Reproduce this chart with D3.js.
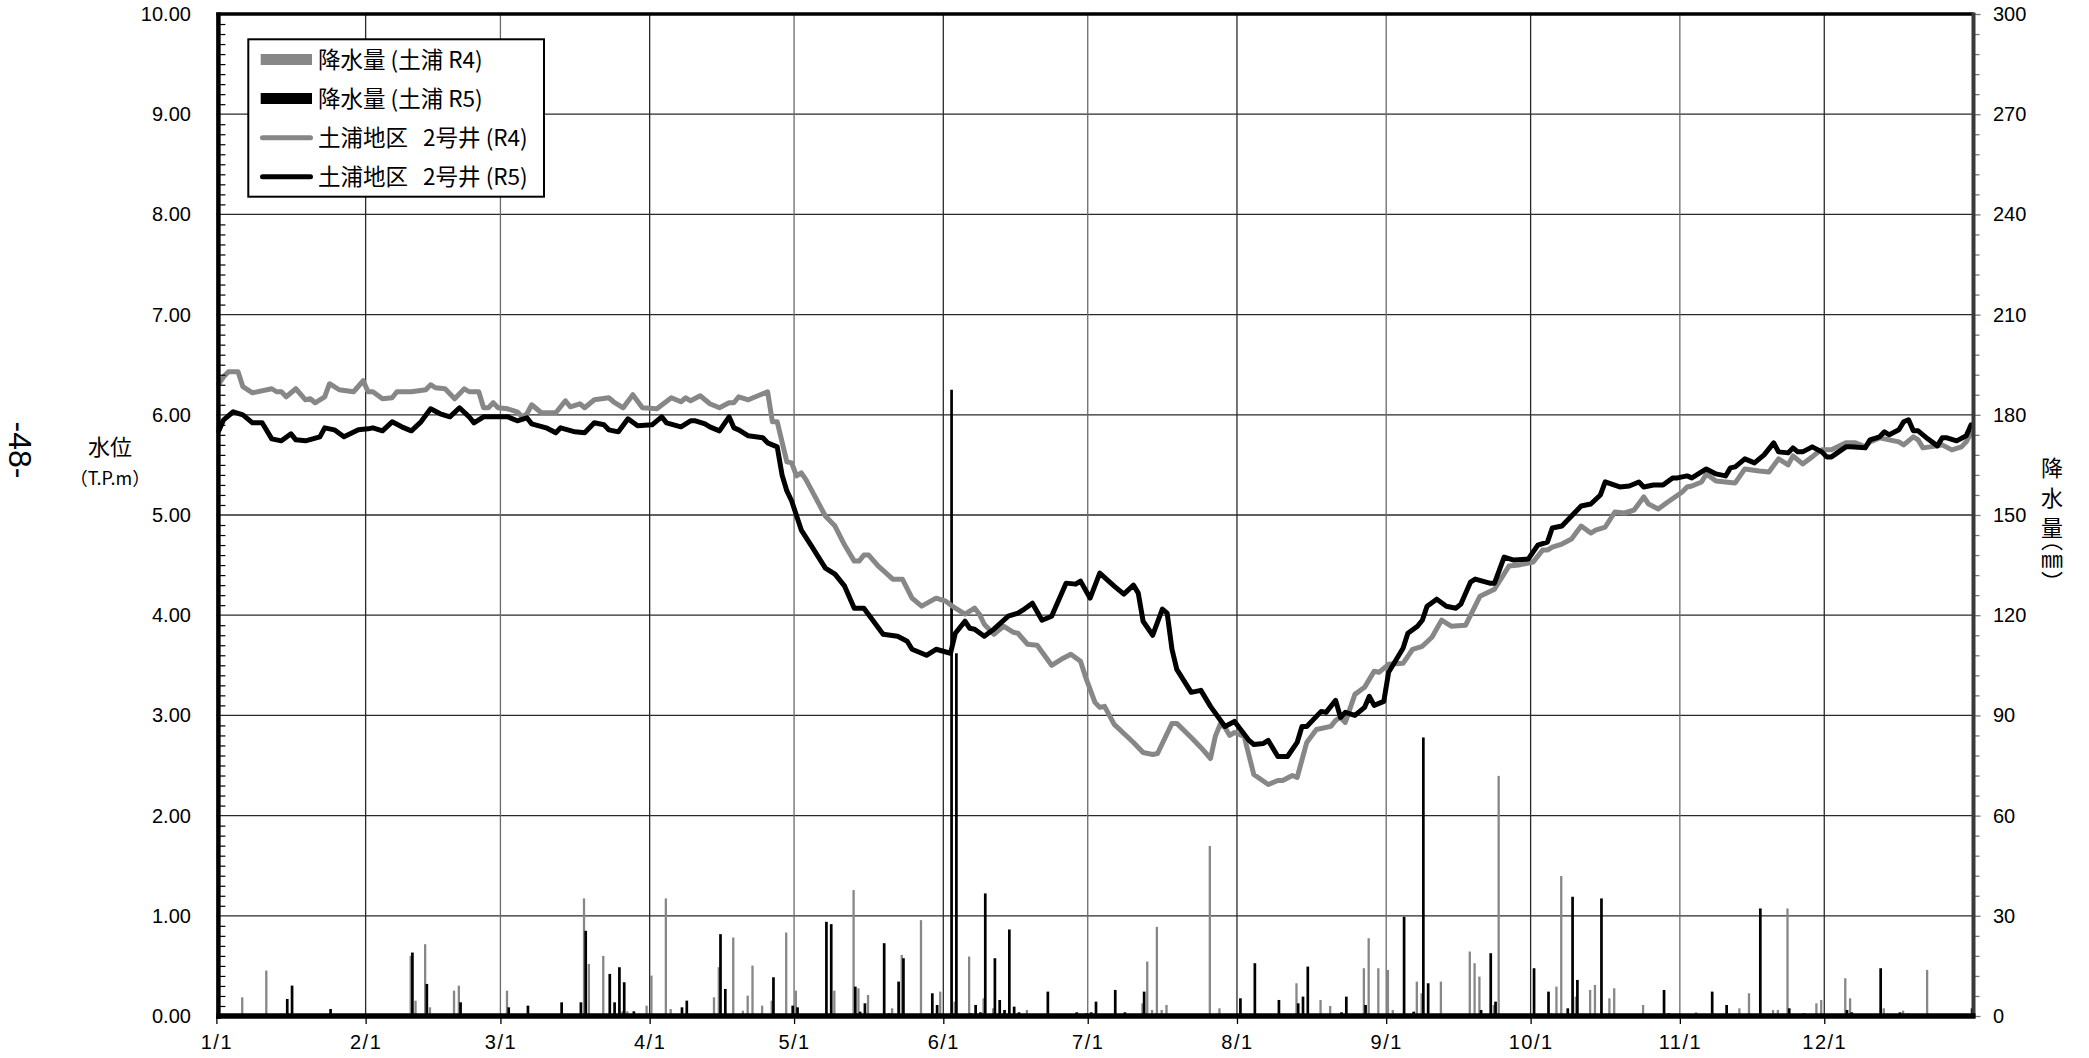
<!DOCTYPE html>
<html><head><meta charset="utf-8">
<script src="https://cdn.jsdelivr.net/npm/d3@7"></script>
<style>
html,body{margin:0;padding:0;background:#fff;}
svg{display:block;}
.num{font-family:"Liberation Sans",Arial,sans-serif;font-size:20px;fill:#000;}
.jp{font-family:"Noto Sans CJK JP","Noto Sans CJK SC",sans-serif;fill:#000;}
</style></head><body>
<svg id="chart" width="2089" height="1058"></svg>
<script>
// ---------- data ----------
const monthLabels = ["1/1","2/1","3/1","4/1","5/1","6/1","7/1","8/1","9/1","10/1","11/1","12/1"];
const leftTicks = [0,1,2,3,4,5,6,7,8,9,10];
const rightTicks = [0,30,60,90,120,150,180,210,240,270,300];
const legendNames = ["降水量 (土浦 R4)","降水量 (土浦 R5)","土浦地区   2号井 (R4)","土浦地区   2号井 (R5)"];

// groundwater level (T.P.m), [day of year (0 = 1/1), value]
const levelR4 = [[0,6.31],[1,6.38],[2,6.43],[4,6.43],[5,6.28],[7,6.22],[11,6.26],[12,6.23],[13,6.23],[14,6.18],[16,6.26],[18,6.15],[19,6.16],[20,6.12],[22,6.18],[23,6.31],[25,6.25],[28,6.23],[30,6.34],[31,6.23],[32,6.23],[34,6.16],[36,6.17],[37,6.23],[40,6.23],[43,6.25],[44,6.30],[45,6.27],[47,6.26],[49,6.16],[51,6.26],[52,6.23],[54,6.23],[55,6.07],[56,6.07],[57,6.12],[58,6.07],[60,6.06],[62,6.03],[63,5.98],[64,6.01],[65,6.10],[67,6.02],[70,6.02],[72,6.14],[73,6.08],[75,6.11],[76,6.07],[78,6.15],[81,6.17],[82,6.13],[84,6.07],[86,6.20],[88,6.07],[91,6.06],[94,6.17],[96,6.13],[97,6.17],[98,6.14],[100,6.19],[102,6.11],[104,6.07],[106,6.12],[107,6.12],[108,6.18],[110,6.15],[112,6.19],[114,6.23],[115,5.93],[116,5.93],[118,5.53],[119,5.52],[120,5.39],[121,5.42],[122,5.35],[126,4.99],[128,4.89],[130,4.70],[132,4.54],[133,4.54],[134,4.60],[135,4.60],[137,4.49],[140,4.36],[142,4.36],[144,4.17],[146,4.09],[149,4.17],[151,4.14],[153,4.07],[155,4.01],[157,4.07],[158,4.01],[159,3.91],[161,3.81],[163,3.89],[165,3.83],[166,3.82],[168,3.71],[170,3.70],[173,3.50],[175,3.56],[177,3.61],[179,3.54],[180,3.39],[182,3.13],[183,3.08],[184,3.09],[186,2.91],[190,2.73],[192,2.63],[194,2.61],[195,2.62],[198,2.92],[199,2.92],[202,2.78],[204,2.68],[206,2.57],[207,2.79],[208,2.91],[209,2.88],[210,2.80],[211,2.83],[213,2.79],[215,2.41],[218,2.31],[220,2.35],[221,2.35],[223,2.40],[224,2.38],[226,2.73],[228,2.86],[231,2.89],[232,2.95],[233,2.98],[234,2.93],[236,3.21],[238,3.28],[240,3.44],[241,3.43],[243,3.51],[246,3.52],[248,3.66],[250,3.69],[252,3.78],[254,3.95],[256,3.89],[259,3.90],[262,4.19],[265,4.26],[268,4.49],[270,4.50],[273,4.53],[275,4.65],[276,4.65],[277,4.68],[279,4.71],[281,4.76],[283,4.89],[285,4.82],[286,4.85],[288,4.88],[290,5.03],[292,5.02],[294,5.05],[296,5.18],[297,5.11],[299,5.06],[301,5.13],[304,5.23],[305,5.28],[306,5.29],[308,5.33],[309,5.41],[311,5.34],[313,5.33],[315,5.32],[317,5.46],[320,5.44],[322,5.43],[324,5.56],[326,5.50],[327,5.59],[329,5.51],[331,5.58],[332,5.62],[333,5.65],[335,5.65],[338,5.72],[340,5.72],[342,5.68],[343,5.73],[345,5.77],[347,5.75],[349,5.73],[350,5.70],[352,5.78],[353,5.75],[354,5.67],[357,5.69],[358,5.70],[360,5.65],[362,5.68],[363,5.73],[364,5.82]];

const levelR5 = [[0,5.84],[1,5.95],[3,6.03],[5,6.00],[7,5.92],[9,5.92],[11,5.76],[13,5.74],[15,5.81],[16,5.75],[18,5.74],[21,5.78],[22,5.87],[24,5.85],[26,5.78],[29,5.85],[31,5.86],[32,5.87],[34,5.84],[36,5.93],[38,5.88],[40,5.84],[42,5.93],[44,6.06],[46,6.01],[48,5.98],[50,6.07],[52,5.98],[53,5.92],[55,5.98],[56,5.98],[60,5.98],[62,5.94],[64,5.97],[65,5.91],[68,5.87],[70,5.82],[71,5.87],[74,5.83],[76,5.82],[78,5.92],[80,5.90],[81,5.85],[83,5.83],[85,5.96],[87,5.89],[90,5.90],[91,5.94],[92,5.98],[93,5.92],[96,5.88],[98,5.94],[99,5.94],[101,5.91],[102,5.88],[104,5.84],[106,5.98],[107,5.87],[108,5.85],[110,5.79],[113,5.77],[114,5.72],[116,5.68],[117,5.40],[118,5.24],[119,5.14],[121,4.85],[123,4.70],[126,4.47],[128,4.41],[130,4.29],[132,4.07],[134,4.07],[136,3.94],[138,3.81],[141,3.79],[143,3.74],[144,3.66],[147,3.60],[149,3.66],[152,3.62],[153,3.82],[155,3.94],[156,3.87],[157,3.86],[159,3.79],[161,3.86],[164,3.99],[166,4.02],[167,4.05],[169,4.12],[171,3.95],[173,3.99],[176,4.32],[178,4.31],[179,4.34],[181,4.17],[183,4.42],[186,4.29],[188,4.21],[190,4.30],[191,4.22],[192,3.94],[194,3.80],[196,4.06],[197,4.02],[198,3.66],[199,3.46],[202,3.23],[204,3.25],[206,3.09],[209,2.89],[211,2.94],[214,2.75],[215,2.71],[217,2.72],[218,2.75],[220,2.59],[222,2.59],[224,2.73],[225,2.89],[226,2.89],[229,3.04],[230,3.03],[232,3.15],[233,2.98],[234,3.03],[236,3.00],[238,3.08],[239,3.19],[240,3.10],[242,3.14],[243,3.43],[246,3.67],[247,3.82],[249,3.89],[250,3.95],[251,4.09],[253,4.16],[255,4.09],[257,4.07],[258,4.11],[260,4.33],[261,4.36],[264,4.32],[265,4.32],[267,4.58],[269,4.55],[272,4.56],[274,4.70],[276,4.73],[277,4.87],[279,4.89],[282,5.04],[283,5.09],[285,5.11],[287,5.20],[288,5.33],[291,5.28],[293,5.29],[295,5.33],[296,5.28],[298,5.30],[300,5.30],[302,5.37],[303,5.37],[305,5.39],[306,5.37],[309,5.46],[311,5.41],[313,5.39],[314,5.47],[315,5.48],[317,5.56],[319,5.52],[321,5.60],[323,5.72],[324,5.63],[326,5.62],[327,5.67],[328,5.63],[329,5.63],[331,5.68],[333,5.63],[334,5.58],[335,5.58],[338,5.68],[339,5.68],[342,5.67],[343,5.75],[345,5.78],[346,5.83],[347,5.80],[349,5.85],[350,5.93],[351,5.95],[352,5.84],[353,5.84],[355,5.76],[357,5.69],[358,5.77],[359,5.77],[361,5.74],[363,5.79],[364,5.90]];

// daily precipitation (mm), [day of year, mm]
const rainR4 = [[5,5.6],[10,13.6],[40,18],[41,4.6],[43,21.5],[44,2.6],[49,7.6],[50,9.1],[60,7.6],[61,0.6],[76,35.2],[77,15.6],[80,18],[84,1.4],[85,1.4],[89,3.1],[90,12.1],[91,0.6],[93,35.2],[94,2.1],[103,5.6],[104,14.6],[107,23.5],[109,1.6],[110,6.1],[111,15.1],[113,3.1],[115,4.6],[118,25],[120,7.6],[128,7.6],[132,37.7],[133,8.3],[135,6.3],[140,2.3],[142,18.3],[146,28.7],[150,7.3],[153,4.3],[156,17.8],[159,5.3],[161,2.3],[168,1.8],[192,3.8],[193,16.3],[194,1.8],[195,26.7],[196,1.8],[197,3.3],[206,50.9],[208,2.3],[224,9.8],[229,4.8],[231,3.0],[238,14.3],[239,23.3],[241,14.3],[243,13.8],[244,1.8],[249,10.3],[250,6.8],[254,10.3],[260,19.3],[261,15.8],[262,11.8],[265,3.3],[266,71.9],[277,0.8],[278,8.8],[279,41.9],[282,5.8],[285,7.8],[286,9.3],[289,5.3],[290,8.3],[296,3.3],[307,1.1],[316,2.3],[318,6.8],[323,1.8],[324,1.8],[326,32.2],[332,3.8],[333,4.8],[338,11.3],[339,5.3],[346,2.3],[350,1.6],[351,0.8],[355,13.8]];

const rainR5 = [[14,5.1],[15,9.1],[23,2.1],[40,19],[43,9.6],[50,4.1],[60,2.6],[64,3.1],[71,4.1],[75,4.1],[76,25.5],[81,12.6],[82,4.1],[83,14.6],[84,10.1],[86,1.4],[96,2.6],[97,4.6],[104,24.5],[105,8.1],[115,11.6],[119,3.1],[120,2.6],[126,28.2],[127,27.5],[132,8.8],[133,1.3],[134,3.8],[138,21.8],[139,0.8],[141,10.3],[142,17.3],[148,6.8],[149,3.3],[152,187.5],[153,108.6],[156,0.8],[157,3.3],[158,1.1],[159,36.7],[161,17.3],[162,4.8],[163,1.8],[164,25.9],[165,2.8],[166,1.1],[172,7.3],[178,1.1],[180,0.8],[181,1.1],[182,4.3],[186,7.8],[188,1.1],[192,7.3],[212,5.3],[215,15.8],[220,4.8],[224,3.8],[225,5.8],[226,14.8],[233,1.1],[234,5.8],[238,3.3],[246,29.7],[248,1.3],[250,83.4],[251,9.8],[262,1.8],[264,18.8],[265,4.3],[273,14.3],[276,7.3],[280,2.3],[281,35.7],[282,10.8],[287,35.2],[300,7.8],[301,0.8],[310,7.3],[313,3.3],[320,32.2],[326,2.3],[329,0.8],[338,1.8],[339,1.1],[345,14.3],[349,1.1],[364,2.3]];

// ---------- chart ----------
const GRAY = "#878787";
const svg = d3.select("#chart");
const X0 = 216.4, X1 = 1973.5, YT = 14, YB = 1016;
const start = new Date(Date.UTC(2023,0,1));
const end = new Date(Date.UTC(2024,0,1));
const x = d3.scaleUtc().domain([start, end]).range([X0, X1]);
const dayDate = d => d3.utcDay.offset(start, d);
const dayW = (X1 - X0) / 365;
const yL = d3.scaleLinear().domain([0,10]).range([YB, YT]);
const yR = d3.scaleLinear().domain([0,300]).range([YB, YT]);
const monthDates = monthLabels.map((m,i) => new Date(Date.UTC(2023,i,1)));

// grid
const grid = svg.append("g");
grid.selectAll(".hg").data(leftTicks.filter(v => v>0 && v<10)).join("line")
  .attr("x1", X0).attr("x2", X1).attr("y1", d=>yL(d)).attr("y2", d=>yL(d))
  .attr("stroke", "#2a2a2a").attr("stroke-width", 1.3);
grid.selectAll(".vg").data(monthDates.slice(1)).join("line")
  .attr("x1", d=>x(d)).attr("x2", d=>x(d)).attr("y1", YT).attr("y2", YB)
  .attr("stroke", (d,i)=> i%2 ? "#6a6a6a" : "#2a2a2a").attr("stroke-width", 1.3);

// bars
const bars = svg.append("g");
bars.selectAll(".b4").data(rainR4).join("rect")
  .attr("x", d => x(dayDate(d[0])) + 0.6).attr("width", 2.3)
  .attr("y", d => yR(d[1])).attr("height", d => YB - yR(d[1]))
  .attr("fill", GRAY);
bars.selectAll(".b5").data(rainR5).join("rect")
  .attr("x", d => x(dayDate(d[0])) + 2.1).attr("width", 2.7)
  .attr("y", d => yR(d[1])).attr("height", d => YB - yR(d[1]))
  .attr("fill", "#000");

// lines
const line = d3.line().x(d => x(dayDate(d[0])) + dayW/2).y(d => yL(d[1])).curve(d3.curveLinear);
svg.append("path").datum(levelR4).attr("d", line).attr("fill","none")
  .attr("stroke", GRAY).attr("stroke-width", 5).attr("stroke-linejoin","round").attr("stroke-linecap","round");
svg.append("path").datum(levelR5).attr("d", line).attr("fill","none")
  .attr("stroke", "#000").attr("stroke-width", 5).attr("stroke-linejoin","round").attr("stroke-linecap","round");

// left axis labels
const la = svg.append("g").attr("transform", `translate(${X0+2},0)`)
  .call(d3.axisLeft(yL).tickValues(leftTicks).tickFormat(d3.format(".2f")).tickSize(0).tickPadding(27.5));
la.select(".domain").remove();
la.selectAll("text").attr("class","num").attr("font-size",null).attr("font-family",null);
// left minor ticks (inside)
const minorL = d3.range(0, 100).map(i => i/10).filter((v,i) => i%10 !== 0);
const lm = svg.append("g").attr("transform", `translate(${X0+2},0)`)
  .call(d3.axisRight(yL).tickValues(minorL).tickSize(7).tickFormat(""));
lm.select(".domain").remove();
lm.selectAll("line").attr("stroke","#000").attr("stroke-width",1.2);

// right axis
const ra = svg.append("g").attr("transform", `translate(${X1},0)`)
  .call(d3.axisRight(yR).tickValues(rightTicks).tickSize(7).tickPadding(12.5));
ra.select(".domain").remove();
ra.selectAll("line").attr("stroke","#777").attr("stroke-width",1.3);
ra.selectAll("text").attr("class","num").attr("font-size",null).attr("font-family",null);
const minorR = d3.range(0, 301, 6).filter(v => v % 30 !== 0);
const rm = svg.append("g").attr("transform", `translate(${X1},0)`)
  .call(d3.axisRight(yR).tickValues(minorR).tickSize(6).tickFormat(""));
rm.select(".domain").remove();
rm.selectAll("line").attr("stroke","#777").attr("stroke-width",1.3);

// bottom axis
const ba = svg.append("g").attr("transform", `translate(0,${YB})`)
  .call(d3.axisBottom(x).tickValues(monthDates).tickFormat((d,i)=>monthLabels[i]).tickSize(8).tickPadding(11));
ba.select(".domain").remove();
ba.selectAll("line").attr("stroke","#000").attr("stroke-width",1.3);
ba.selectAll("text").attr("class","num").attr("font-size",null).attr("font-family",null)
  .style("letter-spacing","1.5px");

// frame
svg.append("line").attr("x1",X0).attr("x2",X1).attr("y1",YT).attr("y2",YT).attr("stroke","#000").attr("stroke-width",3.5);
svg.append("line").attr("x1",X1).attr("x2",X1).attr("y1",YT-1.5).attr("y2",YB+2).attr("stroke","#3a3a3a").attr("stroke-width",4);
svg.append("line").attr("x1",X0+2).attr("x2",X0+2).attr("y1",YT-1.5).attr("y2",YB+3).attr("stroke","#000").attr("stroke-width",4.5);
svg.append("line").attr("x1",X0).attr("x2",X1+2).attr("y1",YB).attr("y2",YB).attr("stroke","#000").attr("stroke-width",5.5);

// axis titles
svg.append("text").attr("class","jp").attr("x",110).attr("y",455).attr("text-anchor","middle")
  .style("font-size","22px").text("水位");
svg.append("text").attr("class","jp").attr("x",110).attr("y",485).attr("text-anchor","middle")
  .style("font-size","18px").text("（T.P.m）");
svg.append("text").attr("class","num").attr("transform","translate(9,450) rotate(90)")
  .attr("text-anchor","middle").style("font-size","32px").text("-48-");

const rTitle = [["降",457],["水",486.5],["量",516.5],["（㎜）",538.5]];
const rt = svg.append("text").attr("class","jp")
  .style("writing-mode","vertical-rl").style("font-feature-settings","\"vpal\" 1")
  .style("font-size","22px");
rt.selectAll("tspan").data(rTitle).join("tspan")
  .attr("x",2052).attr("y",d=>d[1]).text(d=>d[0]);

// legend
const lg = svg.append("g");
lg.append("rect").attr("x",248.3).attr("y",39.3).attr("width",295.7).attr("height",157.4)
  .attr("fill","#fff").attr("stroke","#000").attr("stroke-width",2);
const legY = [59.5, 98.5, 137.7, 176.7];
const legColor = [GRAY, "#000", GRAY, "#000"];
legendNames.forEach((name,i) => {
  if (i < 2) {
    lg.append("rect").attr("x",260.7).attr("y",legY[i]-5.5).attr("width",51.3).attr("height",11).attr("fill",legColor[i]);
  } else {
    lg.append("line").attr("x1",262.5).attr("x2",310.5).attr("y1",legY[i]).attr("y2",legY[i])
      .attr("stroke",legColor[i]).attr("stroke-width",5).attr("stroke-linecap","round");
  }
  lg.append("text").attr("class","jp").attr("x",318).attr("y",legY[i]+8.3)
    .style("font-size","22.5px").style("white-space","pre").text(name);
});
</script>
</body></html>
